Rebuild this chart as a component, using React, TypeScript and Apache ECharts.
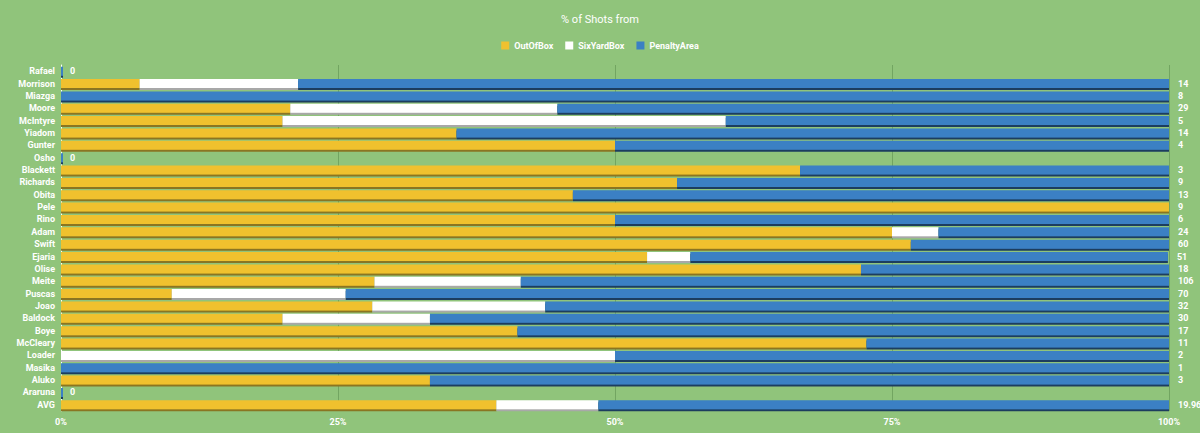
import React, { useEffect, useRef } from "react";
import * as echarts from "echarts";

const players = ["Rafael", "Morrison", "Miazga", "Moore", "McIntyre", "Yiadom", "Gunter", "Osho", "Blackett", "Richards", "Obita", "Pele", "Rino", "Adam", "Swift", "Ejaria", "Olise", "Meite", "Puscas", "Joao", "Baldock", "Boye", "McCleary", "Loader", "Masika", "Aluko", "Araruna", "AVG"];
const totals = [0, 14, 8, 29, 5, 14, 4, 0, 3, 9, 13, 9, 6, 24, 60, 51, 18, 106, 70, 32, 30, 17, 11, 2, 1, 3, 0, 19.96];
const outOfBox = [0, 7.1, 0, 20.7, 20, 35.7, 50, 0, 66.7, 55.6, 46.2, 100, 50, 75, 76.7, 52.9, 72.2, 28.3, 10, 28.1, 20, 41.2, 72.7, 0, 0, 33.3, 0, 39.3];
const sixYardBox = [0, 14.3, 0, 24.1, 40, 0, 0, 0, 0, 0, 0, 0, 0, 4.2, 0, 3.9, 0, 13.2, 15.7, 15.6, 13.3, 0, 0, 50, 0, 0, 0, 9.2];
const penaltyArea = [0, 78.6, 100, 55.2, 40, 64.3, 50, 0, 33.3, 44.4, 53.8, 0, 50, 20.8, 23.3, 43.1, 27.8, 58.5, 74.3, 56.3, 66.7, 58.8, 27.3, 50, 100, 66.7, 0, 51.5];
const xTicks = [0, 25, 50, 75, 100];

const FONT = "'Liberation Sans Narrow', 'Roboto', sans-serif";

export default function App() {
  const ref = useRef<HTMLDivElement>(null);
  useEffect(() => {
    if (!ref.current) return;
    document.body.style.margin = "0";
    const chart = echarts.init(ref.current, undefined, { renderer: "svg" });
    const barW = 9;
    const mk = (name: string, data: number[], color: string, shadow: string, extra: any = {}) => ({
      name,
      type: "bar",
      stack: "a",
      data,
      barWidth: barW,
      itemStyle: { color, shadowColor: shadow, shadowOffsetY: 2, shadowBlur: 0 },
      emphasis: { disabled: true },
      ...extra,
    });
    chart.setOption({
      animation: false,
      backgroundColor: "#90c47b",
      title: {
        text: "% of Shots from",
        left: "center",
        top: 9,
        textStyle: { color: "#ffffff", fontSize: 11, fontWeight: "normal", fontFamily: FONT },
      },
      legend: {
        top: 36,
        left: "center",
        data: ["OutOfBox", "SixYardBox", "PenaltyArea"],
        icon: "rect",
        itemWidth: 8,
        itemHeight: 8,
        itemGap: 12,
        textStyle: { color: "#ffffff", fontSize: 9, fontWeight: "bold", fontFamily: FONT },
      },
      grid: { left: 61, right: 31, top: 65, bottom: 22, containLabel: false },
      xAxis: {
        type: "value",
        min: 0,
        max: 100,
        interval: 25,
        axisLine: { show: false },
        axisTick: { show: false },
        splitLine: { show: true, lineStyle: { color: "rgba(60,110,50,0.35)", width: 1 } },
        axisLabel: {
          color: "#ffffff",
          fontSize: 9,
          fontWeight: "bold",
          fontFamily: FONT,
          margin: 6,
          formatter: (v: number) => (xTicks.includes(v) ? v + "%" : ""),
        },
      },
      yAxis: {
        type: "category",
        data: players,
        inverse: true,
        axisLine: { show: true, lineStyle: { color: "#ffffff", width: 1 } },
        axisTick: { show: false },
        axisLabel: { color: "#ffffff", fontSize: 9, fontWeight: "bold", fontFamily: FONT, margin: 6 },
      },
      series: [
        mk("OutOfBox", outOfBox, "#f0c12f", "#8a7424"),
        mk("SixYardBox", sixYardBox, "#ffffff", "#a8a8a8"),
        mk("PenaltyArea", penaltyArea, "#3a80c4", "#1d3c5e", { barMinHeight: 2 }),
        {
          name: "Total",
          type: "bar",
          stack: "a",
          data: players.map(() => 0),
          barWidth: barW,
          itemStyle: { color: "transparent" },
          emphasis: { disabled: true },
          label: {
            show: true,
            position: "right",
            distance: 9,
            color: "#ffffff",
            fontSize: 9,
            fontWeight: "bold",
            fontFamily: FONT,
            formatter: (p: any) => String(totals[p.dataIndex]),
          },
        },
      ],
    });
    return () => chart.dispose();
  }, []);
  return <div ref={ref} style={{ width: 1200, height: 433 }} />;
}
